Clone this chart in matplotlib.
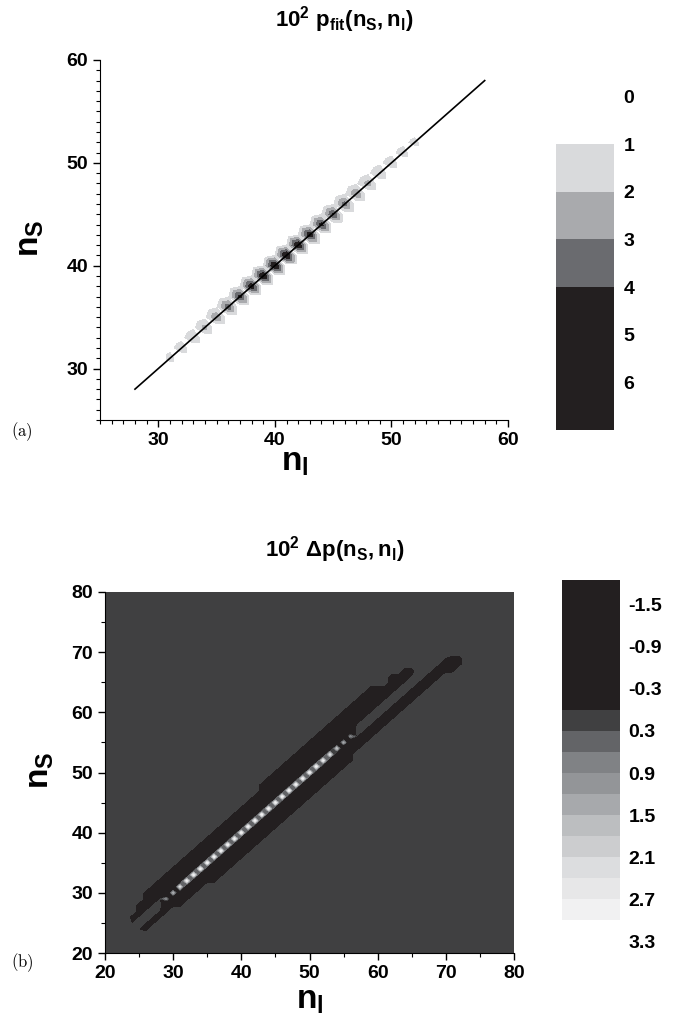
import matplotlib
matplotlib.use("Agg")
import matplotlib.pyplot as plt
import matplotlib.tri as mtri
import numpy as np
from matplotlib.colors import ListedColormap, BoundaryNorm
from matplotlib.ticker import MultipleLocator

plt.rcParams['font.family'] = ['Liberation Sans', 'DejaVu Sans']
plt.rcParams['font.weight'] = 'bold'
plt.rcParams['mathtext.fontset'] = 'custom'
plt.rcParams['mathtext.rm'] = 'Liberation Sans:bold'
plt.rcParams['mathtext.it'] = 'Liberation Sans:bold'
plt.rcParams['mathtext.bf'] = 'Liberation Sans:bold'
plt.rcParams['mathtext.sf'] = 'Liberation Sans:bold'

# ---- (a) fitted probability (x100): diagonal ns = nl and the cell just above it
fit_n = list(range(31, 53))
fit_p = [1.5, 1.7, 2.0, 2.4, 3.0, 3.8, 4.5, 5.0, 5.4, 5.6, 5.6,
         5.4, 5.0, 4.6, 4.2, 3.6, 3.0, 2.5, 2.1, 1.8, 1.6, 1.4]
fit_p_up = [0.6, 0.6, 0.7, 0.7, 0.8, 0.8, 0.9, 0.9, 0.9, 0.9, 0.9,
            0.9, 0.9, 0.9, 0.8, 0.8, 0.8, 0.7, 0.7, 0.6, 0.6, 0.5]
fit_line = [28, 58]
levels_a = [1, 2, 3, 4, 7]
colors_a = ['#d9dadc', '#a9aaad', '#6a6b6f', '#231f20']

# ---- (b) difference, negative bands either side of the diagonal
upper_nl = list(range(23, 66))
upper_lo = [1] * 43
upper_hi = [1, 2, 3] + [4] * 17 + [5] * 17 + [4, 3, 4, 3, 3, 2]
lower_nl = list(range(25, 73))
lower_lo = [-1] + [-2] * 5 + [-3] * 5 + [-4] * 21 + [-3] * 13 + [-3, -4, -4]
lower_hi = [-1] * 46 + [-2, -3]
band_val = -0.29
gap_val = -0.05
next_to_diag_val = -1.8
background_val = 0.29
diag_nl = list(range(29, 57))
diag_val = [0.8, 1.4, 2.2, 2.8] + [3.0] * 19 + [2.8, 2.4, 1.8, 1.3, 0.8]

levels_b = [-1.85, 0, 0.3, 0.6, 0.9, 1.2, 1.5, 1.8, 2.1, 2.4, 2.7, 3.0]
colors_b = ['#231f20', '#404041', '#636467', '#808285', '#939598', '#a7a9ac',
            '#bcbec0', '#cccdcf', '#dcdddf', '#e7e7e8', '#f1f1f2']
ticks_b = [-1.5, -0.9, -0.3, 0.3, 0.9, 1.5, 2.1, 2.7, 3.3]


def fx(px):
    return px / 692.0


def fy(py):
    return 1 - py / 1025.0


fig = plt.figure(figsize=(6.92, 10.25), dpi=100)

# ================= panel (a)
ax = fig.add_axes([fx(100), fy(420), fx(408), 360 / 1025.0])
n_a = np.arange(25, 61)
N = len(n_a)
P = np.zeros((N, N))
for n, p, pu in zip(fit_n, fit_p, fit_p_up):
    P[n - 25, n - 25] = p
    P[n + 1 - 25, n - 25] = pu
# grid triangulated along the anti-diagonal of every cell
XX, YY = np.meshgrid(n_a, n_a)
tris = []
for j in range(N - 1):
    for i in range(N - 1):
        a, b = j * N + i, j * N + i + 1
        c, d = (j + 1) * N + i, (j + 1) * N + i + 1
        tris.append([a, b, c])
        tris.append([b, d, c])
tri = mtri.Triangulation(XX.ravel(), YY.ravel(), tris)
ax.tricontourf(tri, P.ravel(), levels=levels_a, colors=colors_a)
ax.plot(fit_line, fit_line, color='k', lw=1.2)
ax.set_xlim(25, 60)
ax.set_ylim(25, 60)
for a in (ax.xaxis, ax.yaxis):
    a.set_major_locator(MultipleLocator(10))
    a.set_minor_locator(MultipleLocator(1))
ax.spines['top'].set_visible(False)
ax.spines['right'].set_visible(False)
ax.tick_params(which='major', direction='out', length=5, width=1, labelsize=14)
ax.tick_params(which='minor', direction='out', length=3, width=0.8)

cmap_a = ListedColormap(['#ffffff'] + colors_a)
cax = fig.add_axes([fx(556), fy(430), fx(58), (430 - 87) / 1025.0])
cax.pcolormesh([0, 1], [0, 1, 2, 3, 4, 7], np.arange(5).reshape(5, 1),
               cmap=cmap_a, vmin=-0.5, vmax=4.5)
cax.set_ylim(7, -0.2)
cax.set_xlim(0, 1)
for s in cax.spines.values():
    s.set_visible(False)
cax.set_xticks([])
cax.yaxis.tick_right()
cax.set_yticks(range(0, 7))
cax.tick_params(axis='y', length=0, pad=7, labelsize=14)

fig.text(fx(344), fy(20), r'$10^2\ p_{fit}(n_S,n_l)$', ha='center', va='center', fontsize=16)
fig.text(fx(30), fy(238), r'$n_S$', rotation=90, ha='center', va='center', fontsize=24)
fig.text(fx(295), fy(462), r'$n_l$', ha='center', va='center', fontsize=24)
fig.text(fx(22), fy(432), r'$\mathrm{(a)}$', math_fontfamily='cm', ha='center', va='center', fontsize=12)

# ================= panel (b)
ax2 = fig.add_axes([fx(105), fy(953), fx(409), 361 / 1025.0])
n_b = np.arange(20, 81)
D = np.full((len(n_b), len(n_b)), background_val)
for nl, lo, hi in zip(upper_nl, upper_lo, upper_hi):
    for d in range(lo, hi + 1):
        D[nl + d - 20, nl - 20] = band_val
for nl, lo, hi in zip(lower_nl, lower_lo, lower_hi):
    for d in range(lo, hi + 1):
        D[nl + d - 20, nl - 20] = band_val
# cells right next to the diagonal: shallow where the bands leave a gap
for n in n_b[1:-1]:
    for d in (-1, 1):
        if D[n + d - 20, n - 20] < 0:
            D[n + d - 20, n - 20] = next_to_diag_val if n in diag_nl else gap_val
for n, v in zip(diag_nl, diag_val):
    D[n - 20, n - 20] = v
ax2.contourf(n_b, n_b, D, levels=levels_b, colors=colors_b)
ax2.set_xlim(20, 80)
ax2.set_ylim(20, 80)
for a in (ax2.xaxis, ax2.yaxis):
    a.set_major_locator(MultipleLocator(10))
    a.set_minor_locator(MultipleLocator(5))
ax2.spines['top'].set_visible(False)
ax2.spines['right'].set_visible(False)
ax2.tick_params(which='major', direction='out', length=5, width=1, labelsize=14)
ax2.tick_params(which='minor', direction='out', length=3, width=0.8)

cmap_b = ListedColormap(colors_b)
norm_b = BoundaryNorm(levels_b, cmap_b.N)
cax2 = fig.add_axes([fx(562), fy(952), fx(58), (952 - 580) / 1025.0])
mids = [(levels_b[i] + levels_b[i + 1]) / 2 for i in range(len(levels_b) - 1)]
cax2.pcolormesh([0, 1], levels_b, np.array(mids).reshape(-1, 1), cmap=cmap_b, norm=norm_b)
cax2.set_ylim(3.45, -1.85)
cax2.set_xlim(0, 1)
for s in cax2.spines.values():
    s.set_visible(False)
cax2.set_xticks([])
cax2.yaxis.tick_right()
cax2.set_yticks(ticks_b)
cax2.set_yticklabels([f'{t:.1f}' for t in ticks_b])
cax2.tick_params(axis='y', length=0, pad=6, labelsize=14)

fig.text(fx(335), fy(550), r'$10^2\ \Delta p(n_S,n_l)$', ha='center', va='center', fontsize=16)
fig.text(fx(40), fy(770), r'$n_S$', rotation=90, ha='center', va='center', fontsize=24)
fig.text(fx(310), fy(1000), r'$n_l$', ha='center', va='center', fontsize=24)
fig.text(fx(22), fy(963), r'$\mathrm{(b)}$', math_fontfamily='cm', ha='center', va='center', fontsize=12)

fig.savefig('out.png', dpi=100)
